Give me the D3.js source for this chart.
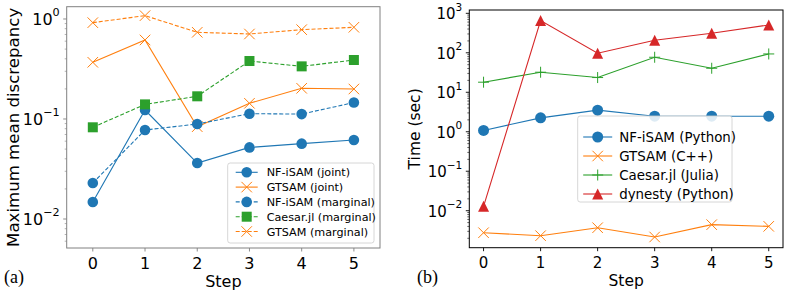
<!DOCTYPE html>
<html lang="en">
<head>
    <meta charset="UTF-8">
    <title>MMD and time per step</title>
    <style>
        body { margin: 0; background: #fff; }
        svg text { font-family: 'DejaVu Sans', sans-serif; fill: #000; }
    </style>
</head>
<body>
    <svg id="chart" width="789" height="298"></svg>

    <script src="https://d3js.org/d3.v7.min.js"></script>
    <script>
        const steps = [0, 1, 2, 3, 4, 5];

        // panel (a): maximum mean discrepancy
        const nfJoint = [0.0148, 0.123, 0.0363, 0.052, 0.0567, 0.0617];
        const gtsamJoint = [0.369, 0.617, 0.0838, 0.1435, 0.2027, 0.1995];
        const nfMarginal = [0.0229, 0.0776, 0.0891, 0.113, 0.112, 0.146];
        const caesarMarginal = [0.0826, 0.140, 0.1686, 0.380, 0.336, 0.389];
        const gtsamMarginal = [0.919, 1.08, 0.736, 0.708, 0.782, 0.826];

        // panel (b): run time in seconds
        const nfTime = [1.08, 2.25, 3.52, 2.48, 2.48, 2.48];
        const gtsamTime = [0.00277, 0.00233, 0.00371, 0.00216, 0.00443, 0.00402];
        const caesarTime = [18.0, 32.2, 23.6, 77.1, 40.6, 93.5];
        const dynestyTime = [0.0129, 653, 97.3, 207, 312, 507];

        const blue = '#1f77b4', orange = '#ff7f0e', green = '#2ca02c', red = '#d62728';

        const svg = d3.select('#chart');

        // marker drawing
        function marker(g, type, x, y, color, size) {
            const s = size / 2;
            if (type === 'circle') {
                g.append('circle').attr('cx', x).attr('cy', y).attr('r', s)
                    .attr('fill', color);
            } else if (type === 'square') {
                g.append('rect').attr('x', x - s).attr('y', y - s)
                    .attr('width', size).attr('height', size).attr('fill', color);
            } else if (type === 'x') {
                g.append('path')
                    .attr('d', `M${x - s},${y - s}L${x + s},${y + s}M${x - s},${y + s}L${x + s},${y - s}`)
                    .attr('stroke', color).attr('stroke-width', 1).attr('fill', 'none');
            } else if (type === 'plus') {
                g.append('path')
                    .attr('d', `M${x - s},${y}L${x + s},${y}M${x},${y - s}L${x},${y + s}`)
                    .attr('stroke', color).attr('stroke-width', 1).attr('fill', 'none');
            } else if (type === 'triangle') {
                g.append('path')
                    .attr('d', `M${x},${y - s}L${x + s},${y + s}L${x - s},${y + s}Z`)
                    .attr('fill', color);
            }
        }

        function logTickLabel(g, x, y, exp, size) {
            const t = g.append('text').attr('x', x).attr('y', y)
                .attr('text-anchor', 'end').attr('dominant-baseline', 'middle')
                .style('font-size', size + 'px');
            t.append('tspan').text('10');
            t.append('tspan').attr('dy', -size * 0.42).style('font-size', (size * 0.7) + 'px')
                .text(exp < 0 ? '\u2212' + Math.abs(exp) : String(exp));
        }

        function drawPanel(cfg) {
            const g = svg.append('g');
            const x = d3.scaleLinear().domain(cfg.xDomain).range([cfg.left, cfg.right]);
            const y = d3.scaleLog().domain(cfg.yDomain).range([cfg.bottom, cfg.top]);

            g.append('rect').attr('x', cfg.left).attr('y', cfg.top)
                .attr('width', cfg.right - cfg.left).attr('height', cfg.bottom - cfg.top)
                .attr('fill', '#fff');

            // y ticks (log)
            const lo = Math.floor(Math.log10(cfg.yDomain[0]));
            const hi = Math.ceil(Math.log10(cfg.yDomain[1]));
            for (let e = lo; e <= hi; e++) {
                for (let m = 1; m < 10; m++) {
                    const v = m * Math.pow(10, e);
                    if (v < cfg.yDomain[0] || v > cfg.yDomain[1]) continue;
                    const yy = y(v);
                    const len = m === 1 ? 3.5 : 2;
                    g.append('line').attr('x1', cfg.left - len).attr('x2', cfg.left)
                        .attr('y1', yy).attr('y2', yy)
                        .attr('stroke', cfg.frame).attr('stroke-width', m === 1 ? 0.9 : 0.6);
                    if (m === 1) logTickLabel(g, cfg.left - 7, yy + 1, e, cfg.tickSize);
                }
            }

            // x ticks
            steps.forEach(s => {
                g.append('line').attr('x1', x(s)).attr('x2', x(s))
                    .attr('y1', cfg.bottom).attr('y2', cfg.bottom + 3.5)
                    .attr('stroke', cfg.frame).attr('stroke-width', 0.9);
                g.append('text').attr('x', x(s)).attr('y', cfg.bottom + 16)
                    .attr('text-anchor', 'middle').attr('dominant-baseline', 'middle')
                    .style('font-size', cfg.tickSize + 'px').text(s);
            });

            // series
            const line = d3.line().x((d, i) => x(steps[i])).y(d => y(d));
            cfg.series.forEach(sr => {
                g.append('path').datum(sr.values).attr('d', line)
                    .attr('fill', 'none').attr('stroke', sr.color).attr('stroke-width', 1.1)
                    .attr('stroke-dasharray', sr.dash ? '4,2' : null);
                sr.values.forEach((v, i) => marker(g, sr.marker, x(steps[i]), y(v), sr.color, sr.size));
            });

            // frame
            g.append('rect').attr('x', cfg.left).attr('y', cfg.top)
                .attr('width', cfg.right - cfg.left).attr('height', cfg.bottom - cfg.top)
                .attr('fill', 'none').attr('stroke', cfg.frame).attr('stroke-width', 1);

            // legend
            const L = cfg.legend;
            g.append('rect').attr('x', L.x).attr('y', L.y).attr('width', L.w).attr('height', L.h)
                .attr('rx', 2.5).attr('fill', 'rgba(255,255,255,0.85)')
                .attr('stroke', '#cccccc').attr('stroke-width', 0.8);
            cfg.series.forEach((sr, i) => {
                const cy = L.y + L.first + i * L.gap;
                g.append('line').attr('x1', L.x + L.hx0).attr('x2', L.x + L.hx1)
                    .attr('y1', cy).attr('y2', cy)
                    .attr('stroke', sr.color).attr('stroke-width', 1.1)
                    .attr('stroke-dasharray', sr.dash ? '4,2' : null);
                marker(g, sr.marker, L.x + (L.hx0 + L.hx1) / 2, cy, sr.color, sr.size);
                g.append('text').attr('x', L.x + L.tx).attr('y', cy + 1)
                    .attr('dominant-baseline', 'middle')
                    .style('font-size', L.font + 'px').text(sr.name);
            });

            // axis labels
            g.append('text').attr('x', (cfg.left + cfg.right) / 2).attr('y', cfg.bottom + 34)
                .attr('text-anchor', 'middle').attr('dominant-baseline', 'middle')
                .style('font-size', cfg.labelSize + 'px').text('Step');
            g.append('text')
                .attr('transform', `translate(${cfg.yLabelX},${(cfg.top + cfg.bottom) / 2}) rotate(-90)`)
                .attr('text-anchor', 'middle').attr('dominant-baseline', 'middle')
                .style('font-size', cfg.yLabelSize + 'px').text(cfg.yLabel);
            g.append('text').attr('x', cfg.tagX).attr('y', 279)
                .attr('dominant-baseline', 'middle')
                .style('font-family', "'Liberation Serif', 'DejaVu Serif', serif")
                .style('font-size', '18px').text(cfg.tag);
        }

        drawPanel({
            left: 66.7, right: 380, top: 6.7, bottom: 248,
            xDomain: [-0.5, 5.5], yDomain: [0.00513, 1.327],
            frame: '#808080', tickSize: 16, labelSize: 16,
            yLabel: 'Maximum mean discrepancy', yLabelX: 14, yLabelSize: 16.6,
            tag: '(a)', tagX: 4,
            series: [
                { name: 'NF-iSAM (joint)', values: nfJoint, color: blue, marker: 'circle', size: 10.6, dash: false },
                { name: 'GTSAM (joint)', values: gtsamJoint, color: orange, marker: 'x', size: 10.5, dash: false },
                { name: 'NF-iSAM (marginal)', values: nfMarginal, color: blue, marker: 'circle', size: 10.6, dash: true },
                { name: 'Caesar.jl (marginal)', values: caesarMarginal, color: green, marker: 'square', size: 10, dash: true },
                { name: 'GTSAM (marginal)', values: gtsamMarginal, color: orange, marker: 'x', size: 10.5, dash: true }
            ],
            legend: { x: 227.7, y: 163, w: 146.3, h: 80, first: 9.3, gap: 14.8,
                      hx0: 8, hx1: 30, tx: 39, font: 11.2 }
        });

        drawPanel({
            left: 469.3, right: 783, top: 10, bottom: 247.7,
            xDomain: [-0.25, 5.25], yDomain: [Math.pow(10, -2.937), Math.pow(10, 3.084)],
            frame: '#000000', tickSize: 15, labelSize: 15.5,
            yLabel: 'Time (sec)', yLabelX: 415, yLabelSize: 15.5,
            tag: '(b)', tagX: 417,
            series: [
                { name: 'NF-iSAM (Python)', values: nfTime, color: blue, marker: 'circle', size: 11, dash: false },
                { name: 'GTSAM (C++)', values: gtsamTime, color: orange, marker: 'x', size: 10.5, dash: false },
                { name: 'Caesar.jl (Julia)', values: caesarTime, color: green, marker: 'plus', size: 11, dash: false },
                { name: 'dynesty (Python)', values: dynestyTime, color: red, marker: 'triangle', size: 11, dash: false }
            ],
            legend: { x: 577.7, y: 116, w: 154.3, h: 86, first: 21, gap: 19,
                      hx0: 5.5, hx1: 34.5, tx: 41.5, font: 13.4 }
        });
    </script>
</body>
</html>
